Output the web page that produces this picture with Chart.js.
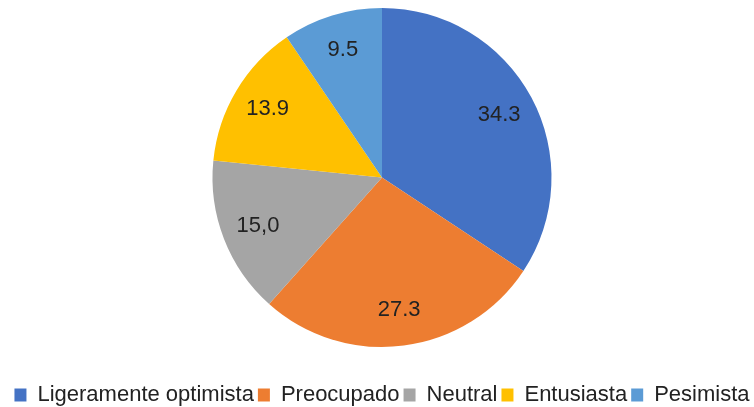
<!DOCTYPE html>
<html>
<head>
<meta charset="utf-8">
<script src="https://cdn.jsdelivr.net/npm/chart.js@4"></script>
<style>
  html, body { margin: 0; padding: 0; background: #fff; }
  #wrap { width: 754px; height: 407px; }
</style>
</head>
<body>
<div id="wrap"><canvas id="grafico" width="754" height="407"></canvas></div>
<script>
const categorias = ["Ligeramente optimista", "Preocupado", "Neutral", "Entusiasta", "Pesimista"];
const valores = [34.3, 27.3, 15.0, 13.9, 9.5];
// etiquetas tal como aparecen en el gráfico
const etiquetas = ["34.3", "27.3", "15,0", "13.9", "9.5"];
const colores = ["#4472C4", "#ED7D31", "#A5A5A5", "#FFC000", "#5B9BD5"];

// dibuja el valor dentro de cada porción
const etiquetasPlugin = {
  id: "etiquetas",
  afterDatasetsDraw(chart) {
    const ctx = chart.ctx;
    const meta = chart.getDatasetMeta(0);
    ctx.save();
    ctx.font = "22px 'Liberation Sans', Arial, sans-serif";
    ctx.fillStyle = "#222";
    ctx.textAlign = "center";
    ctx.textBaseline = "middle";
    meta.data.forEach((arc, i) => {
      const p = arc.getProps(["x", "y", "startAngle", "endAngle", "outerRadius"], true);
      const ang = (p.startAngle + p.endAngle) / 2;
      const r = p.outerRadius * 0.785;
      ctx.fillText(etiquetas[i], p.x + Math.cos(ang) * r, p.y + Math.sin(ang) * r);
    });
    ctx.restore();
  },
};

const data = {
  labels: categorias,
  datasets: [
    {
      data: valores,
      backgroundColor: colores,
      borderWidth: 0,
      hoverOffset: 0,
    },
  ],
};

const config = {
  type: "pie",
  data: data,
  options: {
    responsive: false,
    animation: false,
    layout: {
      padding: { top: 8, left: 10, right: 0, bottom: -9 },
    },
    plugins: {
      legend: {
        position: "bottom",
        // titulo vacio: solo para bajar la leyenda
        title: {
          display: true,
          text: "",
          font: { size: 10, lineHeight: 1 },
          padding: { top: 23, bottom: 0 },
        },
        labels: {
          boxWidth: 12,
          boxHeight: 13,
          padding: 4,
          color: "#222",
          font: { size: 22, family: "'Liberation Sans', Arial, sans-serif" },
        },
      },
      tooltip: { enabled: false },
    },
  },
  plugins: [etiquetasPlugin],
};

const grafico = new Chart(document.getElementById("grafico"), config);
</script>
</body>
</html>
